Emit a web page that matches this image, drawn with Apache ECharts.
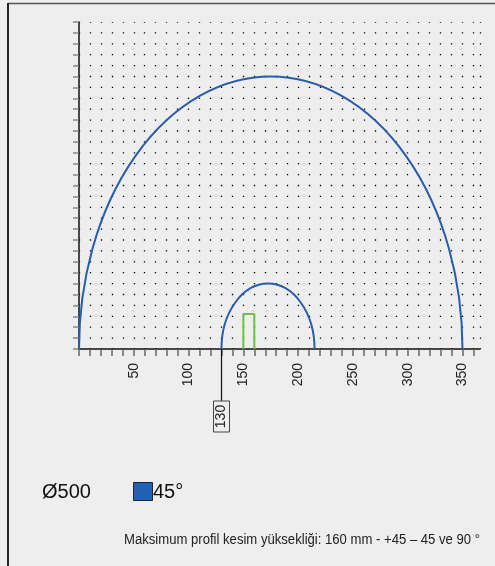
<!DOCTYPE html>
<html>
<head>
<meta charset="utf-8">
<script src="https://cdn.jsdelivr.net/npm/echarts@6/dist/echarts.min.js"></script>
<style>
  html, body { margin: 0; padding: 0; background: #eeeeee; }
  #main { width: 495px; height: 566px; }
</style>
</head>
<body>
<div id="main"></div>
<script>
// cutting range arcs: start, end (mm) and height (mm)
var arcStart = [0, 130];
var arcEnd = [350, 215];
var arcHeight = [250, 60];

// profile rectangle outline (x, y)
var profileX = [150, 150, 160, 160];
var profileY = [0, 32, 32, 0];

// marker under the axis
var markerValue = [130];

var xLabels = [50, 100, 150, 200, 250, 300, 350];

var noteText = 'Maksimum profil kesim yüksekliği: 160 mm - +45 – 45 ve 90 °';
var noteFont = '14px "Liberation Sans", Arial';

var chartDom = document.getElementById('main');
var myChart = echarts.init(chartDom);
var option;

var arcData = arcStart.map(function (s, i) {
  return [s, arcEnd[i], arcHeight[i]];
});
var profileData = profileX.map(function (x, i) {
  return [x, profileY[i]];
});

// squeeze the footnote to look like the condensed font of the original
var ctx = document.createElement('canvas').getContext('2d');
ctx.font = noteFont;
var noteScale = 356 / ctx.measureText(noteText).width;

option = {
  backgroundColor: '#eeeeee',
  animation: false,
  grid: {
    left: 79,
    top: 22,
    width: 401,
    height: 327,
    containLabel: false,
    outerBoundsMode: 'none'
  },
  xAxis: {
    type: 'value',
    min: 0,
    max: 366,
    interval: 10,
    axisLine: { lineStyle: { color: '#111', width: 1.5 } },
    axisTick: { length: 7, lineStyle: { color: '#666', width: 1.5 } },
    axisLabel: {
      rotate: 90,
      margin: 14,
      color: '#222',
      fontSize: 14,
      fontFamily: 'Liberation Sans, Arial',
      showMaxLabel: false,
      formatter: function (v) {
        return xLabels.indexOf(v) >= 0 ? String(v) : '';
      }
    },
    splitLine: {
      show: true,
      lineStyle: {
        color: '#000',
        width: 1.3,
        type: [1.3, 9.6],
        dashOffset: 0.65
      }
    }
  },
  yAxis: {
    type: 'value',
    min: 0,
    max: 300,
    interval: 10,
    axisLine: { show: true, lineStyle: { color: '#111', width: 1.5 } },
    axisTick: { show: true, length: 6, lineStyle: { color: '#888', width: 1.5 } },
    axisLabel: { show: false },
    splitLine: { show: false }
  },
  series: [
    {
      type: 'custom',
      name: 'arcs',
      data: arcData,
      encode: { x: [0, 1], y: 2 },
      renderItem: function (params, api) {
        var p0 = api.coord([api.value(0), 0]);
        var p1 = api.coord([api.value(1), 0]);
        var top = api.coord([(api.value(0) + api.value(1)) / 2, api.value(2)]);
        var rx = (p1[0] - p0[0]) / 2;
        var ry = p0[1] - top[1];
        return {
          type: 'path',
          shape: {
            pathData: 'M' + p0[0] + ' ' + p0[1] + ' A' + rx + ' ' + ry + ' 0 0 1 ' + p1[0] + ' ' + p1[1]
          },
          style: { fill: 'none', stroke: '#2a5caf', lineWidth: 2 }
        };
      }
    },
    {
      type: 'line',
      name: 'profile',
      data: profileData,
      symbol: 'none',
      lineStyle: { color: '#6cc04a', width: 2 },
      z: 3
    },
    {
      type: 'custom',
      name: 'marker',
      clip: false,
      data: markerValue.map(function (v) { return [v, 0]; }),
      renderItem: function (params, api) {
        var p = api.coord([api.value(0), 0]);
        var x = Math.round(p[0]) + 0.5;
        return {
          type: 'group',
          children: [
            {
              type: 'line',
              shape: { x1: x, y1: p[1], x2: x, y2: p[1] + 52 },
              style: { stroke: '#111', lineWidth: 1.2 }
            },
            {
              type: 'rect',
              shape: { x: x - 8, y: p[1] + 52, width: 16, height: 31 },
              style: { fill: '#eeeeee', stroke: '#444', lineWidth: 1 }
            },
            {
              type: 'text',
              x: x,
              y: p[1] + 67.5,
              rotation: Math.PI / 2,
              style: {
                text: String(api.value(0)),
                fill: '#222',
                font: '14px "Liberation Sans", Arial',
                align: 'center',
                verticalAlign: 'middle'
              }
            }
          ]
        };
      }
    }
  ],
  graphic: [
    { type: 'line', shape: { x1: 8, y1: 3.5, x2: 495, y2: 3.5 }, style: { stroke: '#555', lineWidth: 1.5 } },
    { type: 'line', shape: { x1: 8, y1: 3, x2: 8, y2: 566 }, style: { stroke: '#222', lineWidth: 2 } },
    {
      type: 'text', left: 42, top: 482,
      style: { text: 'Ø500', fill: '#111', font: '20px "Liberation Sans", Arial' }
    },
    {
      type: 'rect', shape: { x: 133.5, y: 482.5, width: 19, height: 18 },
      style: { fill: '#1e63b5', stroke: '#223', lineWidth: 1 }
    },
    {
      type: 'text', left: 153, top: 482,
      style: { text: '45°', fill: '#111', font: '20px "Liberation Sans", Arial' }
    },
    {
      type: 'text', x: 124, y: 540, scaleX: noteScale,
      style: {
        text: noteText,
        fill: '#222',
        font: noteFont,
        align: 'left',
        verticalAlign: 'middle'
      }
    }
  ]
};
option && myChart.setOption(option);
</script>
</body>
</html>
